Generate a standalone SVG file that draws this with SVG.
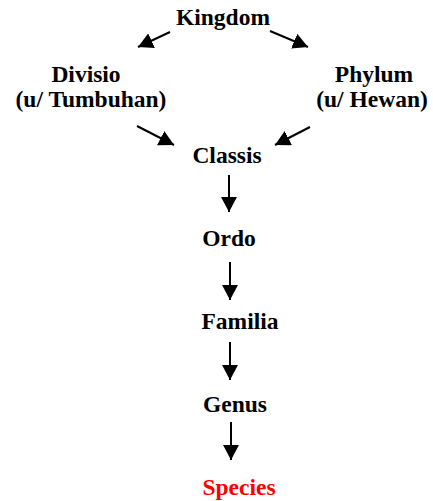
<svg xmlns="http://www.w3.org/2000/svg" width="433" height="501" viewBox="0 0 433 501">
  <style>
    .lbl { font-family: "Liberation Serif", "Times New Roman", serif; font-weight: bold; font-size: 23.5px; fill: #000; text-anchor: middle; }
    .red { fill: #ff0000; }
    .edge { stroke: #000; stroke-width: 2; fill: none; marker-end: url(#head); }
  </style>
  <defs>
    <marker id="head" markerUnits="userSpaceOnUse" markerWidth="16" markerHeight="16" refX="15" refY="8" orient="auto">
      <path d="M0,0 L15,8 L0,16 Z" fill="#000"/>
    </marker>
  </defs>
  <rect width="433" height="501" fill="#fff"/>
  <g id="connectors">
    <line class="edge" x1="170" y1="32" x2="138" y2="47"/>
    <line class="edge" x1="270" y1="31" x2="308" y2="47"/>
    <line class="edge" x1="137" y1="126" x2="174" y2="145"/>
    <line class="edge" x1="310" y1="127" x2="275" y2="145"/>
    <line class="edge" x1="229" y1="175" x2="229" y2="212"/>
    <line class="edge" x1="230" y1="262" x2="230" y2="300"/>
    <line class="edge" x1="230" y1="342" x2="230" y2="380"/>
    <line class="edge" x1="231" y1="422" x2="231" y2="460"/>
  </g>
  <g id="kingdom"><text class="lbl" x="223" y="25">Kingdom</text></g>
  <g id="divisio">
    <text class="lbl" x="86" y="82">Divisio</text>
    <text class="lbl" x="91" y="107">(u/ Tumbuhan)</text>
  </g>
  <g id="phylum">
    <text class="lbl" x="374" y="82">Phylum</text>
    <text class="lbl" x="372" y="107">(u/ Hewan)</text>
  </g>
  <g id="classis"><text class="lbl" x="227" y="163">Classis</text></g>
  <g id="ordo"><text class="lbl" x="229" y="246">Ordo</text></g>
  <g id="familia"><text class="lbl" x="240" y="329">Familia</text></g>
  <g id="genus"><text class="lbl" x="235" y="412">Genus</text></g>
  <g id="species"><text class="lbl red" x="239" y="495">Species</text></g>
</svg>
